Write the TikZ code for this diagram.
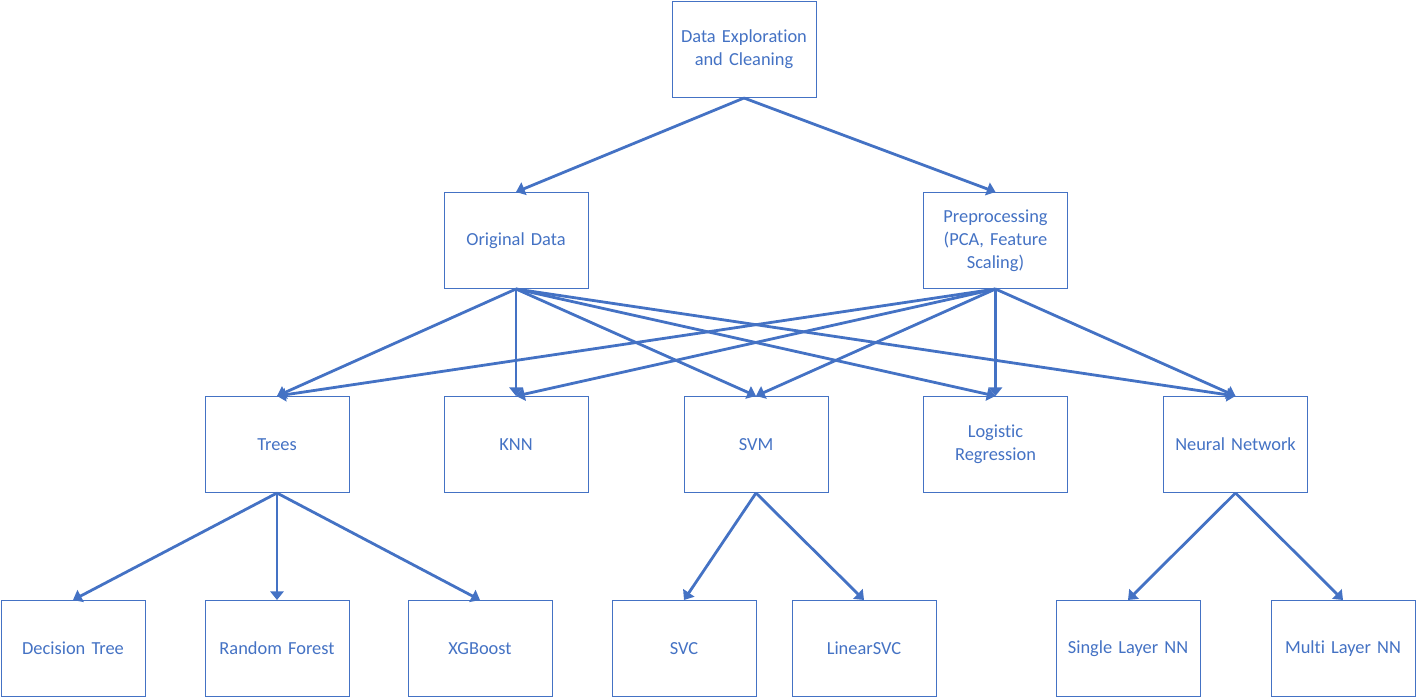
\documentclass[tikz,border=0pt]{standalone}
\usepackage{fontspec}
\setmainfont[Ligatures={NoCommon}]{Carlito}
\usetikzlibrary{arrows.meta}
\definecolor{accent}{HTML}{4472C4}
\tikzset{
  box/.style={draw=accent, line width=0.75pt, fill=white, minimum width=108pt, minimum height=72pt, inner sep=2pt, align=center, text=accent, font=\fontsize{13.8}{17.25}\selectfont, text width=104pt},
  link/.style={draw=accent, line width=2.1pt, -{Triangle[length=6.5pt,width=10pt]}}
}
\begin{document}
\begin{tikzpicture}[x=0.75pt,y=-0.75pt]
\useasboundingbox (0,0) rectangle (1417,697);
\node[box] (dec) at (744,49.5) {Data Exploration\\and Cleaning};
\node[box] (orig) at (516,240.5) {Original Data};
\node[box] (pre) at (995.5,240.5) {Preprocessing\\(PCA, Feature\\Scaling)};
\node[box] (trees) at (277,444.5) {Trees};
\node[box] (knn) at (516,444.5) {KNN};
\node[box] (svm) at (756,444.5) {SVM};
\node[box] (lr) at (995.5,444.5) {Logistic\\Regression};
\node[box] (nn) at (1235.5,444.5) {Neural Network};
\node[box] (dt) at (73,648.5) {Decision Tree};
\node[box] (rf) at (277,648.5) {Random Forest};
\node[box] (xgb) at (480,648.5) {XGBoost};
\node[box] (svc) at (684,648.5) {SVC};
\node[box] (lsvc) at (864,648.5) {LinearSVC};
\node[box] (snn) at (1128,648.5) {Single Layer NN};
\node[box] (mnn) at (1343,648.5) {Multi Layer NN};
\draw[link] (dec.south) -- (orig.north);
\draw[link] (dec.south) -- (pre.north);
\foreach \t in {trees,knn,svm,lr,nn}{
  \draw[link] (orig.south) -- (\t.north);
  \draw[link] (pre.south) -- (\t.north);
}
\draw[link] (trees.south) -- (dt.north);
\draw[link] (trees.south) -- (rf.north);
\draw[link] (trees.south) -- (xgb.north);
\draw[link] (svm.south) -- (svc.north);
\draw[link] (svm.south) -- (lsvc.north);
\draw[link] (nn.south) -- (snn.north);
\draw[link] (nn.south) -- (mnn.north);
\end{tikzpicture}
\end{document}
